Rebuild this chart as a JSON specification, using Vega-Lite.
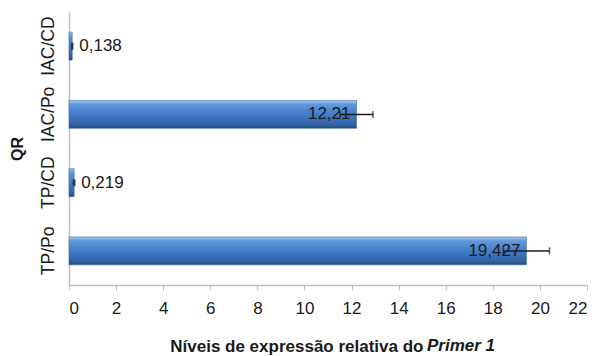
{
  "$schema": "https://vega.github.io/schema/vega-lite/v6.json",
  "width": 518,
  "height": 273,
  "autosize": {"type": "none"},
  "padding": {"left": 69, "top": 12, "right": 11, "bottom": 71},
  "background": "white",
  "config": {"view": {"stroke": null}, "font": "Liberation Sans"},
  "title": {
    "text": "Primer 1",
    "orient": "bottom",
    "anchor": "start",
    "frame": "group",
    "fontStyle": "italic",
    "fontWeight": "bold",
    "fontSize": 17,
    "color": "#1a1a1a",
    "font": "Liberation Sans",
    "dx": 358,
    "dy": -20
  },
  "data": {
    "values": [
      {"QR": "IAC/CD", "value": 0.138, "err": 0.02, "label": "0,138"},
      {"QR": "IAC/Po", "value": 12.21, "err": 0.7, "label": "12,21"},
      {"QR": "TP/CD", "value": 0.219, "err": 0.03, "label": "0,219"},
      {"QR": "TP/Po", "value": 19.427, "err": 0.98, "label": "19,427"}
    ]
  },
  "encoding": {
    "y": {
      "field": "QR",
      "type": "nominal",
      "sort": ["IAC/CD", "IAC/Po", "TP/CD", "TP/Po"],
      "scale": {"paddingInner": 0.59, "paddingOuter": 0.295},
      "axis": {
        "title": "QR",
        "titleFontSize": 16,
        "titleFontWeight": "bold",
        "titleColor": "#1a1a1a",
        "titlePadding": 14,
        "labelAngle": -90,
        "labelFontSize": 17.5,
        "labelColor": "#1a1a1a",
        "labelPadding": 12,
        "ticks": false,
        "grid": false,
        "domainColor": "#bfbfbf",
        "domainWidth": 1.5
      }
    },
    "x": {
      "field": "value",
      "type": "quantitative",
      "scale": {"domain": [0, 22], "nice": false},
      "axis": {
        "values": [0, 2, 4, 6, 8, 10, 12, 14, 16, 18, 20, 22],
        "title": "Níveis de expressão relativa do",
        "titleFontSize": 17,
        "titleFontWeight": "bold",
        "titleColor": "#1a1a1a",
        "titleAlign": "right",
        "titleBaseline": "alphabetic",
        "titleX": 354,
        "titleY": 66,
        "labelFontSize": 17,
        "labelColor": "#1a1a1a",
        "labelPadding": 10,
        "tickSize": 5,
        "tickColor": "#bfbfbf",
        "grid": false,
        "domainColor": "#bfbfbf",
        "domainWidth": 1.5
      }
    }
  },
  "layer": [
    {
      "mark": {
        "type": "bar",
        "color": {
          "gradient": "linear",
          "x1": 0, "y1": 0, "x2": 0, "y2": 1,
          "stops": [
            {"offset": 0, "color": "#a6c9f0"},
            {"offset": 0.15, "color": "#5f97da"},
            {"offset": 0.55, "color": "#3f79c6"},
            {"offset": 0.9, "color": "#2f5f9f"},
            {"offset": 1, "color": "#24487a"}
          ]
        },
        "stroke": "#2d5a94",
        "strokeWidth": 0.5
      }
    },
    {
      "mark": {
        "type": "errorbar",
        "color": "#1a1a1a",
        "ticks": {"size": 7, "color": "#1a1a1a", "thickness": 1.5},
        "rule": {"strokeWidth": 1.5, "color": "#1a1a1a"}
      },
      "encoding": {
        "xError": {"field": "err"}
      }
    },
    {
      "transform": [{"filter": "datum.value < 1"}],
      "mark": {"type": "text", "align": "left", "baseline": "middle", "dx": 7, "fontSize": 17, "color": "#1a1a1a"},
      "encoding": {
        "text": {"field": "label"}
      }
    },
    {
      "transform": [{"filter": "datum.value >= 1"}],
      "mark": {"type": "text", "align": "right", "baseline": "middle", "dx": -6, "fontSize": 17, "color": "#1a1a1a"},
      "encoding": {
        "text": {"field": "label"}
      }
    }
  ]
}
